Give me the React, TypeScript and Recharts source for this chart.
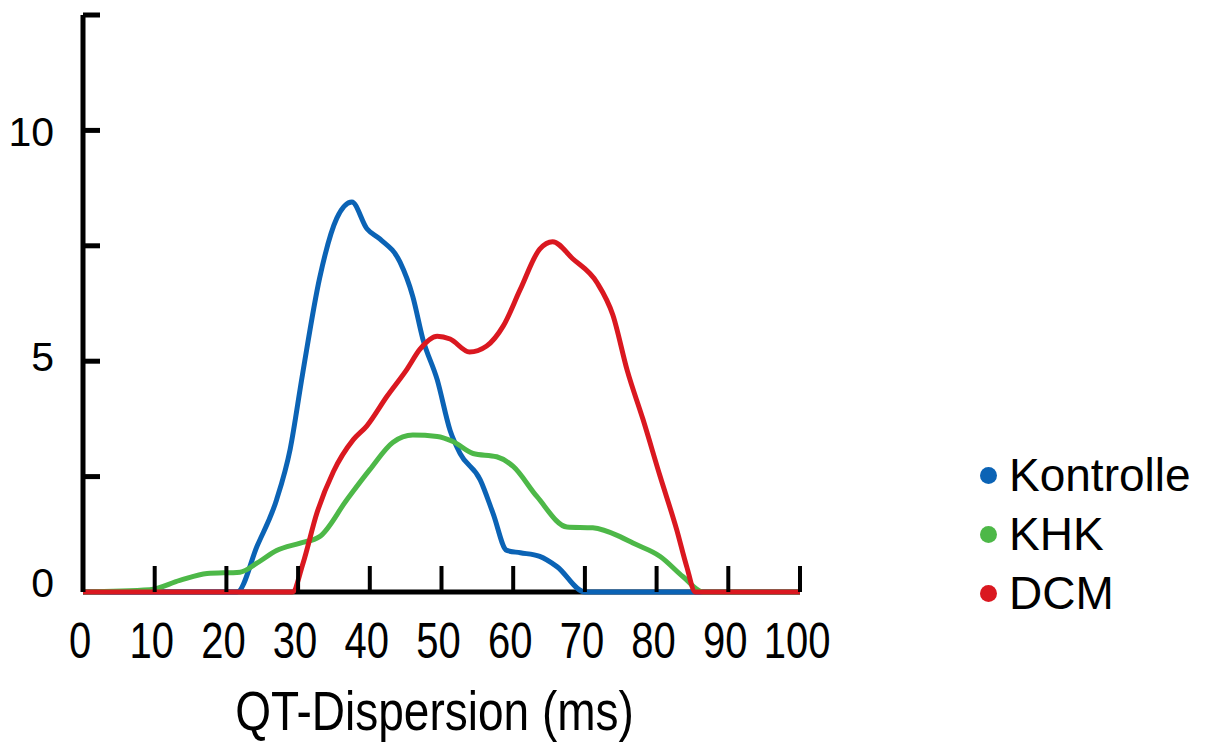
import { Line, LineChart, XAxis, YAxis } from "recharts";

// QT-Dispersion (ms) vs. frequency
const xTicks = [0, 10, 20, 30, 40, 50, 60, 70, 80, 90, 100];
const yTicks = [0, 2.5, 5, 7.5, 10, 12.5];
const yLabelled = [0, 5, 10];

const baseline = [
  { x: 0, y: 0 }, { x: 100, y: 0 },
];

const kontrolle = [
  { x: 0, y: 0 }, { x: 21.5, y: 0 }, { x: 24.3, y: 1.0 }, { x: 27, y: 2.0 },
  { x: 28.9, y: 3.1 }, { x: 30.6, y: 4.7 }, { x: 33, y: 6.8 }, { x: 35.4, y: 8.1 },
  { x: 37.5, y: 8.45 }, { x: 39.6, y: 7.87 }, { x: 41.4, y: 7.65 }, { x: 44.2, y: 7.15 },
  { x: 46, y: 6.4 }, { x: 47.4, y: 5.48 }, { x: 49.4, y: 4.6 }, { x: 51.2, y: 3.5 },
  { x: 52.6, y: 3.0 }, { x: 55.4, y: 2.43 }, { x: 57.2, y: 1.7 }, { x: 59.1, y: 0.9 },
  { x: 61, y: 0.85 }, { x: 63.7, y: 0.77 }, { x: 66.1, y: 0.55 }, { x: 70, y: 0 },
  { x: 100, y: 0 },
];

const khk = [
  { x: 0, y: 0 }, { x: 9.3, y: 0.05 }, { x: 13.5, y: 0.25 }, { x: 17.3, y: 0.4 },
  { x: 21.9, y: 0.43 }, { x: 24.3, y: 0.63 }, { x: 27, y: 0.9 }, { x: 30.3, y: 1.06 },
  { x: 33, y: 1.2 }, { x: 36.8, y: 2.0 }, { x: 40, y: 2.65 }, { x: 43.2, y: 3.24 },
  { x: 46, y: 3.4 }, { x: 49.4, y: 3.37 }, { x: 51.6, y: 3.26 }, { x: 54.4, y: 3.0 },
  { x: 57.7, y: 2.93 }, { x: 60, y: 2.72 }, { x: 63.3, y: 2.07 }, { x: 67.5, y: 1.41 },
  { x: 71.1, y: 1.39 }, { x: 74.9, y: 1.2 }, { x: 76.7, y: 1.06 }, { x: 80.5, y: 0.77 },
  { x: 83.7, y: 0.33 }, { x: 86.5, y: 0 }, { x: 100, y: 0 },
];

const dcm = [
  { x: 0, y: 0 }, { x: 29.2, y: 0 }, { x: 30.7, y: 0.63 }, { x: 32.6, y: 1.7 },
  { x: 34.9, y: 2.6 }, { x: 37.7, y: 3.3 }, { x: 39.6, y: 3.6 }, { x: 42.4, y: 4.24 },
  { x: 45.2, y: 4.83 }, { x: 47, y: 5.26 }, { x: 49.4, y: 5.54 }, { x: 51.2, y: 5.48 },
  { x: 53.9, y: 5.2 }, { x: 56.3, y: 5.33 }, { x: 58.6, y: 5.76 }, { x: 61, y: 6.56 },
  { x: 63.7, y: 7.43 }, { x: 65.5, y: 7.59 }, { x: 68.3, y: 7.22 }, { x: 71.7, y: 6.7 },
  { x: 73.9, y: 6.0 }, { x: 75.9, y: 4.8 }, { x: 78.1, y: 3.74 }, { x: 80.5, y: 2.5 },
  { x: 82.8, y: 1.35 }, { x: 84.2, y: 0.55 }, { x: 85.4, y: 0 }, { x: 100, y: 0 },
];

const series = [
  { name: "Kontrolle", color: "#0b63b5", data: kontrolle },
  { name: "KHK", color: "#4db848", data: khk },
  { name: "DCM", color: "#da1820", data: dcm },
];

const FONT = "'Liberation Sans', Arial, sans-serif";

function XTick(props: any) {
  const { x, y, payload } = props;
  return (
    <g>
      {payload.value > 0 && (
        <line x1={x} x2={x} y1={y} y2={y - 26} stroke="#000" strokeWidth={4} />
      )}
      <text
        transform={`translate(${x - 3},${y + 66}) scale(1,1.26)`}
        textAnchor="middle"
        fontSize={40}
        fontFamily={FONT}
        fill="#000"
      >
        {payload.value}
      </text>
    </g>
  );
}

function YTick(props: any) {
  const { x, y, payload } = props;
  const v = payload.value;
  const dy = v === 0 ? 5 : v === 5 ? 10 : 16;
  return (
    <g>
      {v > 0 && <line x1={x} x2={x + 17} y1={y} y2={y} stroke="#000" strokeWidth={5} />}
      {yLabelled.includes(v) && (
        <text x={x - 29} y={y + dy} textAnchor="end" fontSize={41} fontFamily={FONT} fill="#000">
          {v}
        </text>
      )}
    </g>
  );
}

function AxisTitle(props: any) {
  const { viewBox } = props;
  const cx = viewBox.x + viewBox.width / 2 - 7;
  return (
    <text
      transform={`translate(${cx},${viewBox.y + 138}) scale(1,1.21)`}
      textAnchor="middle"
      fontSize={46}
      fontFamily={FONT}
      fill="#000"
    >
      QT-Dispersion (ms)
    </text>
  );
}

export default function App() {
  return (
    <div
      style={{
        position: "absolute",
        left: 0,
        top: 0,
        width: 1219,
        height: 743,
        background: "#fff",
        fontFamily: FONT,
      }}
    >
      <LineChart width={1219} height={743} margin={{ top: 15, right: 419, bottom: 0, left: 0 }}>
        <XAxis
          dataKey="x"
          type="number"
          domain={[0, 100]}
          ticks={xTicks}
          interval={0}
          height={151}
          tickSize={0}
          tickMargin={0}
          tickLine={false}
          axisLine={false}
          tick={<XTick />}
          label={<AxisTitle />}
        />
        <YAxis
          type="number"
          domain={[0, 12.5]}
          ticks={yTicks}
          interval={0}
          width={83}
          tickSize={0}
          tickMargin={0}
          tickLine={false}
          axisLine={{ stroke: "#000", strokeWidth: 5 }}
          tick={<YTick />}
        />
        <Line
          data={baseline}
          dataKey="y"
          type="linear"
          stroke="#000"
          strokeWidth={5}
          dot={false}
          activeDot={false}
          legendType="none"
          isAnimationActive={false}
        />
        {series.map((s) => (
          <Line
            key={s.name}
            data={s.data}
            dataKey="y"
            name={s.name}
            type="monotone"
            stroke={s.color}
            strokeWidth={5}
            dot={false}
            activeDot={false}
            isAnimationActive={false}
          />
        ))}
      </LineChart>
      <div style={{ position: "absolute", left: 980, top: 446 }}>
        {series.map((s) => (
          <div key={s.name} style={{ display: "flex", alignItems: "center", height: 59 }}>
            <span
              style={{
                width: 17,
                height: 17,
                borderRadius: "50%",
                background: s.color,
                display: "inline-block",
                marginRight: 12,
              }}
            />
            <span style={{ fontSize: 46, color: "#000", lineHeight: "59px" }}>{s.name}</span>
          </div>
        ))}
      </div>
    </div>
  );
}
